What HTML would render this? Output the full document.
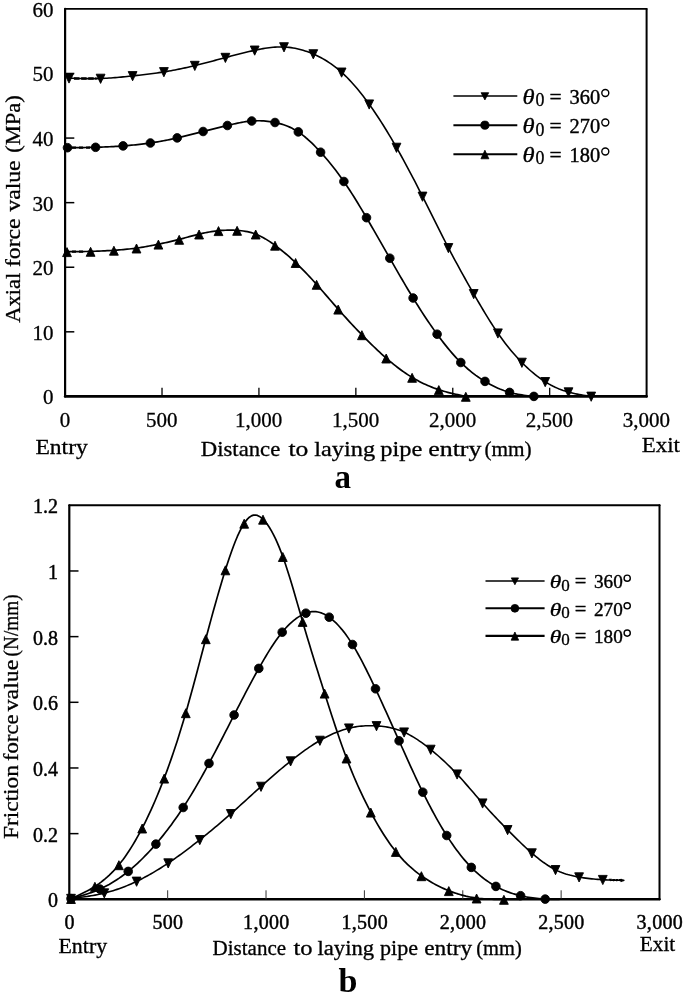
<!DOCTYPE html>
<html><head><meta charset="utf-8"><title>Figure</title>
<style>html,body{margin:0;padding:0;background:#fff;}body{width:685px;height:995px;overflow:hidden;font-family:"Liberation Serif",serif;}</style>
</head><body>
<svg width="685" height="995" viewBox="0 0 685 995" style="display:block;filter:grayscale(1)">
<rect width="685" height="995" fill="#fff"/>
<g font-family="'Liberation Serif', serif" fill="#000">
<g stroke="#000" fill="none" stroke-linecap="round">
<path d="M65.10 8.90 H646.60" stroke-width="1.80"/>
<path d="M646.60 8.90 V396.40" stroke-width="2.00"/>
<path d="M65.10 8.90 V396.40" stroke-width="2.20"/>
<path d="M65.10 396.40 H646.60" stroke-width="2.60"/>
</g><g stroke="#000" fill="none">
<path d="M65.10 73.48 h9.2" stroke-width="1.50"/>
<path d="M162.02 396.40 v-8.6" stroke-width="1.30" stroke="#000"/>
<path d="M65.10 138.07 h9.2" stroke-width="1.50"/>
<path d="M258.93 396.40 v-8.6" stroke-width="1.30" stroke="#000"/>
<path d="M65.10 202.65 h9.2" stroke-width="1.50"/>
<path d="M355.85 396.40 v-8.6" stroke-width="1.30" stroke="#000"/>
<path d="M65.10 267.23 h9.2" stroke-width="1.50"/>
<path d="M452.77 396.40 v-8.6" stroke-width="1.30" stroke="#000"/>
<path d="M65.10 331.82 h9.2" stroke-width="1.50"/>
<path d="M549.68 396.40 v-8.6" stroke-width="1.30" stroke="#000"/>
</g>
<text x="53.5" y="16.90" font-size="21.0" text-anchor="end" stroke="#000" stroke-width="0.3">60</text>
<text x="53.5" y="81.48" font-size="21.0" text-anchor="end" stroke="#000" stroke-width="0.3">50</text>
<text x="53.5" y="146.07" font-size="21.0" text-anchor="end" stroke="#000" stroke-width="0.3">40</text>
<text x="53.5" y="210.65" font-size="21.0" text-anchor="end" stroke="#000" stroke-width="0.3">30</text>
<text x="53.5" y="275.23" font-size="21.0" text-anchor="end" stroke="#000" stroke-width="0.3">20</text>
<text x="53.5" y="339.82" font-size="21.0" text-anchor="end" stroke="#000" stroke-width="0.3">10</text>
<text x="53.5" y="404.40" font-size="21.0" text-anchor="end" stroke="#000" stroke-width="0.3">0</text>
<text x="64.90" y="427.0" font-size="21.0" text-anchor="middle" stroke="#000" stroke-width="0.3">0</text>
<text x="161.82" y="427.0" font-size="21.0" text-anchor="middle" stroke="#000" stroke-width="0.3">500</text>
<text x="258.73" y="427.0" font-size="21.0" text-anchor="middle" stroke="#000" stroke-width="0.3">1,000</text>
<text x="355.65" y="427.0" font-size="21.0" text-anchor="middle" stroke="#000" stroke-width="0.3">1,500</text>
<text x="452.57" y="427.0" font-size="21.0" text-anchor="middle" stroke="#000" stroke-width="0.3">2,000</text>
<text x="549.48" y="427.0" font-size="21.0" text-anchor="middle" stroke="#000" stroke-width="0.3">2,500</text>
<text x="646.40" y="427.0" font-size="21.0" text-anchor="middle" stroke="#000" stroke-width="0.3">3,000</text>
<text x="35.4" y="453.5" font-size="22" textLength="52.4" lengthAdjust="spacingAndGlyphs" stroke="#000" stroke-width="0.3">Entry</text>
<text x="641.8" y="452" font-size="22" textLength="38.2" lengthAdjust="spacingAndGlyphs" stroke="#000" stroke-width="0.3">Exit</text>
<text x="200.80" y="455.50" font-size="21.50" textLength="79.50" lengthAdjust="spacingAndGlyphs" stroke="#000" stroke-width="0.3">Distance</text>
<text x="288.40" y="455.50" font-size="21.50" textLength="19.90" lengthAdjust="spacingAndGlyphs" stroke="#000" stroke-width="0.3">to</text>
<text x="314.20" y="455.50" font-size="21.50" textLength="60.90" lengthAdjust="spacingAndGlyphs" stroke="#000" stroke-width="0.3">laying</text>
<text x="380.30" y="455.50" font-size="21.50" textLength="42.10" lengthAdjust="spacingAndGlyphs" stroke="#000" stroke-width="0.3">pipe</text>
<text x="428.20" y="455.50" font-size="21.50" textLength="53.30" lengthAdjust="spacingAndGlyphs" stroke="#000" stroke-width="0.3">entry</text>
<text x="484.40" y="455.50" font-size="21.00" textLength="47.20" lengthAdjust="spacingAndGlyphs" stroke="#000" stroke-width="0.3">(mm)</text>
<text x="342.8" y="487.8" font-size="33" font-weight="bold" text-anchor="middle">a</text>
<text transform="translate(20.40 322.70) rotate(-90)" font-size="21.50" textLength="50.10" lengthAdjust="spacingAndGlyphs" stroke="#000" stroke-width="0.3">Axial</text>
<text transform="translate(20.40 267.10) rotate(-90)" font-size="21.50" textLength="48.70" lengthAdjust="spacingAndGlyphs" stroke="#000" stroke-width="0.3">force</text>
<text transform="translate(20.40 211.50) rotate(-90)" font-size="21.50" textLength="51.10" lengthAdjust="spacingAndGlyphs" stroke="#000" stroke-width="0.3">value</text>
<text transform="translate(20.40 152.80) rotate(-90)" font-size="21.50" textLength="57.50" lengthAdjust="spacingAndGlyphs" stroke="#000" stroke-width="0.3">(MPa)</text>
<path d="M69.00 78.20 L71.00 78.26 L73.00 78.32 L75.00 78.38 L77.00 78.44 L79.00 78.49 L81.00 78.54 L83.01 78.58 L85.01 78.61 L87.01 78.64 L89.01 78.65 L91.01 78.66 L93.01 78.65 L95.01 78.63 L97.01 78.60 L99.01 78.55 L101.01 78.49 L103.01 78.40 L105.01 78.31 L107.01 78.20 L109.02 78.07 L111.02 77.94 L113.02 77.79 L115.02 77.63 L117.02 77.46 L119.02 77.28 L121.02 77.09 L123.02 76.90 L125.02 76.70 L127.02 76.49 L129.02 76.28 L131.02 76.07 L133.02 75.85 L135.03 75.64 L137.03 75.42 L139.03 75.20 L141.03 74.97 L143.03 74.74 L145.03 74.50 L147.03 74.26 L149.03 74.01 L151.03 73.76 L153.03 73.49 L155.03 73.22 L157.03 72.94 L159.03 72.65 L161.04 72.35 L163.04 72.04 L165.04 71.71 L167.04 71.38 L169.04 71.03 L171.04 70.67 L173.04 70.30 L175.04 69.92 L177.04 69.52 L179.04 69.12 L181.04 68.71 L183.04 68.28 L185.04 67.85 L187.05 67.41 L189.05 66.95 L191.05 66.49 L193.05 66.02 L195.05 65.54 L197.05 65.05 L199.05 64.56 L201.05 64.05 L203.05 63.54 L205.05 63.03 L207.05 62.51 L209.05 61.98 L211.05 61.45 L213.06 60.92 L215.06 60.38 L217.06 59.85 L219.06 59.31 L221.06 58.77 L223.06 58.23 L225.06 57.69 L227.06 57.15 L229.06 56.62 L231.06 56.09 L233.06 55.56 L235.06 55.03 L237.06 54.51 L239.07 54.00 L241.07 53.49 L243.07 53.00 L245.07 52.51 L247.07 52.03 L249.07 51.56 L251.07 51.10 L253.07 50.65 L255.07 50.22 L257.07 49.80 L259.07 49.40 L261.07 49.02 L263.07 48.66 L265.08 48.33 L267.08 48.02 L269.08 47.75 L271.08 47.51 L273.08 47.31 L275.08 47.15 L277.08 47.03 L279.08 46.96 L281.08 46.94 L283.08 46.97 L285.08 47.05 L287.08 47.19 L289.08 47.39 L291.09 47.63 L293.09 47.94 L295.09 48.30 L297.09 48.71 L299.09 49.18 L301.09 49.69 L303.09 50.27 L305.09 50.89 L307.09 51.57 L309.09 52.30 L311.09 53.08 L313.09 53.91 L315.09 54.79 L317.10 55.73 L319.10 56.72 L321.10 57.77 L323.10 58.88 L325.10 60.05 L327.10 61.28 L329.10 62.58 L331.10 63.94 L333.10 65.38 L335.10 66.88 L337.10 68.46 L339.10 70.12 L341.10 71.86 L343.10 73.67 L345.11 75.57 L347.11 77.54 L349.11 79.60 L351.11 81.73 L353.11 83.93 L355.11 86.20 L357.11 88.55 L359.11 90.97 L361.11 93.46 L363.11 96.02 L365.11 98.64 L367.11 101.33 L369.11 104.08 L371.12 106.90 L373.12 109.77 L375.12 112.71 L377.12 115.71 L379.12 118.76 L381.12 121.87 L383.12 125.03 L385.12 128.25 L387.12 131.52 L389.12 134.84 L391.12 138.21 L393.12 141.63 L395.12 145.09 L397.13 148.60 L399.13 152.16 L401.13 155.76 L403.13 159.39 L405.13 163.07 L407.13 166.79 L409.13 170.54 L411.13 174.32 L413.13 178.14 L415.13 181.99 L417.13 185.87 L419.13 189.77 L421.13 193.70 L423.14 197.66 L425.14 201.64 L427.14 205.63 L429.14 209.63 L431.14 213.65 L433.14 217.66 L435.14 221.67 L437.14 225.67 L439.14 229.66 L441.14 233.63 L443.14 237.58 L445.14 241.49 L447.14 245.38 L449.15 249.23 L451.15 253.04 L453.15 256.81 L455.15 260.54 L457.15 264.24 L459.15 267.91 L461.15 271.55 L463.15 275.16 L465.15 278.74 L467.15 282.30 L469.15 285.83 L471.15 289.35 L473.15 292.85 L475.16 296.33 L477.16 299.79 L479.16 303.23 L481.16 306.64 L483.16 310.01 L485.16 313.34 L487.16 316.62 L489.16 319.85 L491.16 323.02 L493.16 326.13 L495.16 329.17 L497.16 332.13 L499.16 335.01 L501.17 337.81 L503.17 340.54 L505.17 343.18 L507.17 345.75 L509.17 348.25 L511.17 350.67 L513.17 353.02 L515.17 355.30 L517.17 357.52 L519.17 359.67 L521.17 361.76 L523.17 363.78 L525.17 365.75 L527.18 367.65 L529.18 369.49 L531.18 371.26 L533.18 372.97 L535.18 374.61 L537.18 376.19 L539.18 377.69 L541.18 379.13 L543.18 380.49 L545.18 381.79 L547.18 383.01 L549.18 384.16 L551.18 385.25 L553.19 386.27 L555.19 387.22 L557.19 388.11 L559.19 388.95 L561.19 389.72 L563.19 390.44 L565.19 391.11 L567.19 391.72 L569.19 392.29 L571.19 392.81 L573.19 393.29 L575.19 393.73 L577.19 394.14 L579.20 394.52 L581.20 394.87 L583.20 395.20 L585.20 395.51 L587.20 395.82 L589.20 396.11 L591.20 396.40" fill="none" stroke="#000" stroke-width="1.60" stroke-linejoin="round" stroke-linecap="round"/>
<g fill="#000" stroke="#000" stroke-width="0.90" stroke-linejoin="round"><path d="M64.60 73.90 L73.40 73.90 L69.00 83.10 Z"/><path d="M96.20 74.20 L105.00 74.20 L100.60 83.40 Z"/><path d="M128.20 71.60 L137.00 71.60 L132.60 80.80 Z"/><path d="M159.50 67.60 L168.30 67.60 L163.90 76.80 Z"/><path d="M190.40 61.30 L199.20 61.30 L194.80 70.50 Z"/><path d="M221.00 53.30 L229.80 53.30 L225.40 62.50 Z"/><path d="M250.30 46.00 L259.10 46.00 L254.70 55.20 Z"/><path d="M279.60 42.70 L288.40 42.70 L284.00 51.90 Z"/><path d="M308.90 49.70 L317.70 49.70 L313.30 58.90 Z"/><path d="M337.20 68.00 L346.00 68.00 L341.60 77.20 Z"/><path d="M364.80 99.90 L373.60 99.90 L369.20 109.10 Z"/><path d="M392.10 143.20 L400.90 143.20 L396.50 152.40 Z"/><path d="M418.10 192.10 L426.90 192.10 L422.50 201.30 Z"/><path d="M444.00 243.50 L452.80 243.50 L448.40 252.70 Z"/><path d="M469.30 289.50 L478.10 289.50 L473.70 298.70 Z"/><path d="M493.50 328.90 L502.30 328.90 L497.90 338.10 Z"/><path d="M517.50 358.20 L526.30 358.20 L521.90 367.40 Z"/><path d="M540.80 377.50 L549.60 377.50 L545.20 386.70 Z"/><path d="M564.10 387.80 L572.90 387.80 L568.50 397.00 Z"/><path d="M586.80 392.10 L595.60 392.10 L591.20 401.30 Z"/></g>

<path d="M74 78.5 H96.5" stroke="#000" stroke-width="2.6" stroke-dasharray="5.5 1.6" fill="none"/>
<path d="M72 147.6 H91" stroke="#000" stroke-width="2.2" stroke-dasharray="4 3" fill="none"/>
<path d="M72 251.6 H86" stroke="#000" stroke-width="2.2" stroke-dasharray="4 3" fill="none"/>
<path d="M67.50 147.70 L69.50 147.69 L71.50 147.67 L73.51 147.66 L75.51 147.64 L77.51 147.62 L79.51 147.60 L81.51 147.58 L83.51 147.55 L85.52 147.52 L87.52 147.49 L89.52 147.45 L91.52 147.40 L93.52 147.36 L95.52 147.30 L97.53 147.24 L99.53 147.18 L101.53 147.10 L103.53 147.02 L105.53 146.94 L107.53 146.84 L109.54 146.75 L111.54 146.64 L113.54 146.53 L115.54 146.41 L117.54 146.28 L119.54 146.15 L121.55 146.01 L123.55 145.87 L125.55 145.71 L127.55 145.55 L129.55 145.38 L131.55 145.21 L133.56 145.02 L135.56 144.82 L137.56 144.61 L139.56 144.40 L141.56 144.17 L143.57 143.92 L145.57 143.67 L147.57 143.40 L149.57 143.12 L151.57 142.83 L153.57 142.52 L155.58 142.19 L157.58 141.85 L159.58 141.50 L161.58 141.14 L163.58 140.76 L165.58 140.38 L167.59 139.98 L169.59 139.56 L171.59 139.14 L173.59 138.71 L175.59 138.26 L177.59 137.81 L179.60 137.35 L181.60 136.87 L183.60 136.39 L185.60 135.91 L187.60 135.41 L189.60 134.92 L191.61 134.42 L193.61 133.91 L195.61 133.40 L197.61 132.89 L199.61 132.39 L201.62 131.88 L203.62 131.37 L205.62 130.86 L207.62 130.36 L209.62 129.86 L211.62 129.36 L213.63 128.86 L215.63 128.37 L217.63 127.88 L219.63 127.39 L221.63 126.90 L223.63 126.41 L225.64 125.93 L227.64 125.44 L229.64 124.96 L231.64 124.49 L233.64 124.03 L235.64 123.58 L237.65 123.15 L239.65 122.74 L241.65 122.36 L243.65 122.01 L245.65 121.70 L247.65 121.42 L249.66 121.19 L251.66 121.00 L253.66 120.87 L255.66 120.78 L257.66 120.75 L259.66 120.76 L261.67 120.83 L263.67 120.94 L265.67 121.10 L267.67 121.32 L269.67 121.58 L271.68 121.88 L273.68 122.24 L275.68 122.64 L277.68 123.09 L279.68 123.60 L281.68 124.17 L283.69 124.80 L285.69 125.50 L287.69 126.28 L289.69 127.14 L291.69 128.09 L293.69 129.13 L295.70 130.26 L297.70 131.51 L299.70 132.85 L301.70 134.31 L303.70 135.87 L305.70 137.52 L307.71 139.26 L309.71 141.08 L311.71 142.98 L313.71 144.95 L315.71 146.99 L317.71 149.08 L319.72 151.23 L321.72 153.43 L323.72 155.68 L325.72 157.98 L327.72 160.32 L329.72 162.73 L331.73 165.18 L333.73 167.70 L335.73 170.28 L337.73 172.92 L339.73 175.63 L341.74 178.41 L343.74 181.26 L345.74 184.19 L347.74 187.18 L349.74 190.24 L351.74 193.36 L353.75 196.53 L355.75 199.75 L357.75 203.02 L359.75 206.32 L361.75 209.66 L363.75 213.04 L365.76 216.43 L367.76 219.85 L369.76 223.28 L371.76 226.73 L373.76 230.19 L375.76 233.67 L377.77 237.15 L379.77 240.64 L381.77 244.14 L383.77 247.64 L385.77 251.15 L387.77 254.65 L389.78 258.16 L391.78 261.66 L393.78 265.16 L395.78 268.64 L397.78 272.12 L399.78 275.58 L401.79 279.02 L403.79 282.44 L405.79 285.84 L407.79 289.21 L409.79 292.55 L411.80 295.86 L413.80 299.14 L415.80 302.37 L417.80 305.57 L419.80 308.73 L421.80 311.85 L423.81 314.92 L425.81 317.95 L427.81 320.94 L429.81 323.88 L431.81 326.78 L433.81 329.63 L435.82 332.43 L437.82 335.18 L439.82 337.88 L441.82 340.53 L443.82 343.12 L445.82 345.65 L447.83 348.12 L449.83 350.53 L451.83 352.87 L453.83 355.15 L455.83 357.35 L457.83 359.48 L459.84 361.54 L461.84 363.52 L463.84 365.42 L465.84 367.24 L467.84 368.99 L469.85 370.67 L471.85 372.29 L473.85 373.84 L475.85 375.33 L477.85 376.75 L479.85 378.12 L481.86 379.44 L483.86 380.70 L485.86 381.91 L487.86 383.08 L489.86 384.19 L491.86 385.26 L493.87 386.28 L495.87 387.24 L497.87 388.15 L499.87 389.01 L501.87 389.81 L503.87 390.56 L505.88 391.26 L507.88 391.90 L509.88 392.48 L511.88 393.00 L513.88 393.48 L515.88 393.90 L517.89 394.29 L519.89 394.64 L521.89 394.95 L523.89 395.23 L525.89 395.50 L527.89 395.74 L529.90 395.97 L531.90 396.19 L533.90 396.40" fill="none" stroke="#000" stroke-width="1.70" stroke-linejoin="round" stroke-linecap="round"/>
<g fill="#000" stroke="#000" stroke-width="0.90" stroke-linejoin="round"><circle cx="67.50" cy="147.70" r="4.30"/><circle cx="95.60" cy="147.30" r="4.30"/><circle cx="123.10" cy="145.90" r="4.30"/><circle cx="150.40" cy="143.00" r="4.30"/><circle cx="177.20" cy="137.90" r="4.30"/><circle cx="203.10" cy="131.50" r="4.30"/><circle cx="227.40" cy="125.50" r="4.30"/><circle cx="251.70" cy="121.00" r="4.30"/><circle cx="275.00" cy="122.50" r="4.30"/><circle cx="298.30" cy="131.90" r="4.30"/><circle cx="320.60" cy="152.20" r="4.30"/><circle cx="343.90" cy="181.50" r="4.30"/><circle cx="366.50" cy="217.70" r="4.30"/><circle cx="389.80" cy="258.20" r="4.30"/><circle cx="413.10" cy="298.00" r="4.30"/><circle cx="437.10" cy="334.20" r="4.30"/><circle cx="460.80" cy="362.50" r="4.30"/><circle cx="485.00" cy="381.40" r="4.30"/><circle cx="509.60" cy="392.40" r="4.30"/><circle cx="533.90" cy="396.40" r="4.30"/></g>

<path d="M67.00 251.70 L69.00 251.69 L71.01 251.68 L73.01 251.66 L75.02 251.65 L77.02 251.63 L79.02 251.61 L81.03 251.59 L83.03 251.56 L85.04 251.52 L87.04 251.48 L89.04 251.44 L91.05 251.39 L93.05 251.33 L95.06 251.26 L97.06 251.19 L99.06 251.11 L101.07 251.02 L103.07 250.93 L105.08 250.83 L107.08 250.72 L109.08 250.60 L111.09 250.48 L113.09 250.35 L115.10 250.22 L117.10 250.08 L119.10 249.92 L121.11 249.76 L123.11 249.59 L125.12 249.41 L127.12 249.21 L129.12 249.00 L131.13 248.78 L133.13 248.54 L135.14 248.28 L137.14 248.01 L139.14 247.72 L141.15 247.41 L143.15 247.08 L145.16 246.74 L147.16 246.39 L149.16 246.02 L151.17 245.64 L153.17 245.26 L155.18 244.86 L157.18 244.45 L159.18 244.04 L161.19 243.62 L163.19 243.19 L165.20 242.75 L167.20 242.30 L169.21 241.85 L171.21 241.38 L173.21 240.90 L175.22 240.41 L177.22 239.91 L179.23 239.39 L181.23 238.86 L183.23 238.32 L185.24 237.77 L187.24 237.22 L189.25 236.67 L191.25 236.13 L193.25 235.59 L195.26 235.06 L197.26 234.55 L199.27 234.06 L201.27 233.59 L203.27 233.15 L205.28 232.73 L207.28 232.33 L209.29 231.97 L211.29 231.64 L213.29 231.33 L215.30 231.06 L217.30 230.83 L219.31 230.62 L221.31 230.46 L223.31 230.33 L225.32 230.23 L227.32 230.17 L229.33 230.15 L231.33 230.16 L233.33 230.21 L235.34 230.30 L237.34 230.42 L239.35 230.57 L241.35 230.77 L243.35 231.02 L245.36 231.33 L247.36 231.70 L249.37 232.14 L251.37 232.67 L253.37 233.28 L255.38 233.98 L257.38 234.78 L259.39 235.68 L261.39 236.66 L263.39 237.74 L265.40 238.89 L267.40 240.11 L269.41 241.40 L271.41 242.75 L273.41 244.15 L275.42 245.61 L277.42 247.10 L279.43 248.64 L281.43 250.22 L283.43 251.85 L285.44 253.51 L287.44 255.22 L289.45 256.97 L291.45 258.76 L293.45 260.59 L295.46 262.47 L297.46 264.38 L299.47 266.33 L301.47 268.32 L303.47 270.34 L305.48 272.40 L307.48 274.49 L309.49 276.62 L311.49 278.77 L313.49 280.96 L315.50 283.17 L317.50 285.41 L319.51 287.68 L321.51 289.96 L323.51 292.26 L325.52 294.58 L327.52 296.90 L329.53 299.22 L331.53 301.54 L333.53 303.86 L335.54 306.16 L337.54 308.45 L339.55 310.73 L341.55 312.98 L343.55 315.21 L345.56 317.43 L347.56 319.62 L349.57 321.80 L351.57 323.96 L353.57 326.10 L355.58 328.22 L357.58 330.32 L359.59 332.41 L361.59 334.48 L363.59 336.54 L365.60 338.57 L367.60 340.59 L369.61 342.58 L371.61 344.56 L373.62 346.51 L375.62 348.43 L377.62 350.32 L379.63 352.19 L381.63 354.03 L383.64 355.84 L385.64 357.61 L387.64 359.35 L389.65 361.05 L391.65 362.72 L393.66 364.35 L395.66 365.94 L397.66 367.49 L399.67 369.00 L401.67 370.47 L403.68 371.89 L405.68 373.27 L407.68 374.61 L409.69 375.90 L411.69 377.15 L413.70 378.35 L415.70 379.50 L417.70 380.61 L419.71 381.67 L421.71 382.69 L423.72 383.67 L425.72 384.60 L427.72 385.49 L429.73 386.34 L431.73 387.15 L433.74 387.92 L435.74 388.65 L437.74 389.35 L439.75 390.01 L441.75 390.63 L443.76 391.23 L445.76 391.79 L447.76 392.33 L449.77 392.84 L451.77 393.33 L453.78 393.80 L455.78 394.26 L457.78 394.70 L459.79 395.14 L461.79 395.56 L463.80 395.98 L465.80 396.40" fill="none" stroke="#000" stroke-width="1.70" stroke-linejoin="round" stroke-linecap="round"/>
<g fill="#000" stroke="#000" stroke-width="0.90" stroke-linejoin="round"><path d="M62.60 256.60 L71.40 256.60 L67.00 247.60 Z"/><path d="M86.20 256.30 L95.00 256.30 L90.60 247.30 Z"/><path d="M109.50 255.20 L118.30 255.20 L113.90 246.20 Z"/><path d="M132.10 253.00 L140.90 253.00 L136.50 244.00 Z"/><path d="M154.00 249.10 L162.80 249.10 L158.40 240.10 Z"/><path d="M174.80 244.30 L183.60 244.30 L179.20 235.30 Z"/><path d="M194.70 239.00 L203.50 239.00 L199.10 230.00 Z"/><path d="M214.10 235.60 L222.90 235.60 L218.50 226.60 Z"/><path d="M232.70 235.30 L241.50 235.30 L237.10 226.30 Z"/><path d="M251.30 239.00 L260.10 239.00 L255.70 230.00 Z"/><path d="M270.60 250.20 L279.40 250.20 L275.00 241.20 Z"/><path d="M291.20 267.50 L300.00 267.50 L295.60 258.50 Z"/><path d="M312.20 289.30 L321.00 289.30 L316.60 280.30 Z"/><path d="M333.80 314.10 L342.60 314.10 L338.20 305.10 Z"/><path d="M357.50 339.70 L366.30 339.70 L361.90 330.70 Z"/><path d="M381.80 363.00 L390.60 363.00 L386.20 354.00 Z"/><path d="M407.70 382.30 L416.50 382.30 L412.10 373.30 Z"/><path d="M434.40 394.60 L443.20 394.60 L438.80 385.60 Z"/><path d="M461.40 401.30 L470.20 401.30 L465.80 392.30 Z"/></g>

<path d="M453.40 96.00 H517.30" stroke="#000" stroke-width="1.30"/>
<g stroke="#000" stroke-width="0.8" stroke-linejoin="round">
<path d="M481.10 92.69 L488.70 92.69 L484.90 99.91 Z"/>
</g>
<text transform="translate(522.60 103.60) scale(1.2 1)" font-size="20.50" font-style="italic" stroke="#000" stroke-width="0.3">θ</text>
<text x="535.60" y="106.00" font-size="17.84" stroke="#000" stroke-width="0.3">0</text>
<text x="549.60" y="103.60" font-size="21.53" stroke="#000" stroke-width="0.4">=</text>
<text x="569.60" y="103.60" font-size="20.50" textLength="30.60" lengthAdjust="spacingAndGlyphs" stroke="#000" stroke-width="0.4">360</text>
<circle cx="605.30" cy="93.05" r="3.49" fill="none" stroke="#000" stroke-width="1.4"/>
<path d="M453.40 125.20 H517.30" stroke="#000" stroke-width="2.10"/>
<g stroke="#000" stroke-width="0.8" stroke-linejoin="round">
<circle cx="484.90" cy="125.20" r="4.10"/>
</g>
<text transform="translate(522.60 133.10) scale(1.2 1)" font-size="20.50" font-style="italic" stroke="#000" stroke-width="0.3">θ</text>
<text x="535.60" y="135.50" font-size="17.84" stroke="#000" stroke-width="0.3">0</text>
<text x="549.60" y="133.10" font-size="21.53" stroke="#000" stroke-width="0.4">=</text>
<text x="569.60" y="133.10" font-size="20.50" textLength="30.60" lengthAdjust="spacingAndGlyphs" stroke="#000" stroke-width="0.4">270</text>
<circle cx="605.30" cy="122.55" r="3.49" fill="none" stroke="#000" stroke-width="1.4"/>
<path d="M453.40 154.30 H517.30" stroke="#000" stroke-width="2.10"/>
<g stroke="#000" stroke-width="0.8" stroke-linejoin="round">
<path d="M480.95 158.79 L488.85 158.79 L484.90 150.21 Z"/>
</g>
<text transform="translate(522.60 162.00) scale(1.2 1)" font-size="20.50" font-style="italic" stroke="#000" stroke-width="0.3">θ</text>
<text x="535.60" y="164.40" font-size="17.84" stroke="#000" stroke-width="0.3">0</text>
<text x="549.60" y="162.00" font-size="21.53" stroke="#000" stroke-width="0.4">=</text>
<text x="569.60" y="162.00" font-size="20.50" textLength="30.60" lengthAdjust="spacingAndGlyphs" stroke="#000" stroke-width="0.4">180</text>
<circle cx="605.30" cy="151.45" r="3.49" fill="none" stroke="#000" stroke-width="1.4"/>
<g stroke="#000" fill="none" stroke-linecap="round">
<path d="M69.30 505.30 H659.50" stroke-width="2.00"/>
<path d="M659.50 505.30 V899.30" stroke-width="2.00"/>
<path d="M69.30 505.30 V899.30" stroke-width="2.20"/>
<path d="M69.30 899.30 H659.50" stroke-width="2.40"/>
</g><g stroke="#000" fill="none">
<path d="M69.30 570.97 h9.2" stroke-width="1.50"/>
<path d="M167.67 899.30 v-9.0" stroke-width="1.00" stroke="#333"/>
<path d="M69.30 636.63 h9.2" stroke-width="1.50"/>
<path d="M266.03 899.30 v-9.0" stroke-width="1.00" stroke="#333"/>
<path d="M69.30 702.30 h9.2" stroke-width="1.50"/>
<path d="M364.40 899.30 v-9.0" stroke-width="1.00" stroke="#333"/>
<path d="M69.30 767.97 h9.2" stroke-width="1.50"/>
<path d="M462.77 899.30 v-9.0" stroke-width="1.00" stroke="#333"/>
<path d="M69.30 833.63 h9.2" stroke-width="1.50"/>
<path d="M561.13 899.30 v-9.0" stroke-width="1.00" stroke="#333"/>
</g>
<text x="57.9" y="513.40" font-size="20.0" text-anchor="end" stroke="#000" stroke-width="0.45">1.2</text>
<text x="57.9" y="579.07" font-size="20.0" text-anchor="end" stroke="#000" stroke-width="0.45">1</text>
<text x="57.9" y="644.73" font-size="20.0" text-anchor="end" stroke="#000" stroke-width="0.45">0.8</text>
<text x="57.9" y="710.40" font-size="20.0" text-anchor="end" stroke="#000" stroke-width="0.45">0.6</text>
<text x="57.9" y="776.07" font-size="20.0" text-anchor="end" stroke="#000" stroke-width="0.45">0.4</text>
<text x="57.9" y="841.73" font-size="20.0" text-anchor="end" stroke="#000" stroke-width="0.45">0.2</text>
<text x="57.9" y="907.40" font-size="20.0" text-anchor="end" stroke="#000" stroke-width="0.45">0</text>
<text x="69.60" y="929.4" font-size="20.0" text-anchor="middle" letter-spacing="0.3" stroke="#000" stroke-width="0.45">0</text>
<text x="167.97" y="929.4" font-size="20.0" text-anchor="middle" letter-spacing="0.3" stroke="#000" stroke-width="0.45">500</text>
<text x="266.33" y="929.4" font-size="20.0" text-anchor="middle" letter-spacing="0.3" stroke="#000" stroke-width="0.45">1,000</text>
<text x="364.70" y="929.4" font-size="20.0" text-anchor="middle" letter-spacing="0.3" stroke="#000" stroke-width="0.45">1,500</text>
<text x="463.07" y="929.4" font-size="20.0" text-anchor="middle" letter-spacing="0.3" stroke="#000" stroke-width="0.45">2,000</text>
<text x="561.43" y="929.4" font-size="20.0" text-anchor="middle" letter-spacing="0.3" stroke="#000" stroke-width="0.45">2,500</text>
<text x="659.80" y="929.4" font-size="20.0" text-anchor="middle" letter-spacing="0.3" stroke="#000" stroke-width="0.45">3,000</text>
<text x="58.5" y="953.4" font-size="20.5" textLength="48.6" lengthAdjust="spacingAndGlyphs" stroke="#000" stroke-width="0.3">Entry</text>
<text x="639.8" y="951.3" font-size="20.5" textLength="35.4" lengthAdjust="spacingAndGlyphs" stroke="#000" stroke-width="0.3">Exit</text>
<text x="212.50" y="955.30" font-size="20.50" textLength="73.60" lengthAdjust="spacingAndGlyphs" stroke="#000" stroke-width="0.3">Distance</text>
<text x="293.50" y="955.30" font-size="20.50" textLength="19.10" lengthAdjust="spacingAndGlyphs" stroke="#000" stroke-width="0.3">to</text>
<text x="317.50" y="955.30" font-size="20.50" textLength="56.60" lengthAdjust="spacingAndGlyphs" stroke="#000" stroke-width="0.3">laying</text>
<text x="380.00" y="955.30" font-size="20.50" textLength="38.00" lengthAdjust="spacingAndGlyphs" stroke="#000" stroke-width="0.3">pipe</text>
<text x="424.20" y="955.30" font-size="20.50" textLength="47.90" lengthAdjust="spacingAndGlyphs" stroke="#000" stroke-width="0.3">entry</text>
<text x="476.30" y="955.30" font-size="20.00" textLength="45.50" lengthAdjust="spacingAndGlyphs" stroke="#000" stroke-width="0.3">(mm)</text>
<text x="347.9" y="991.7" font-size="34" font-weight="bold" text-anchor="middle">b</text>
<text transform="translate(18.00 839.10) rotate(-90)" font-size="21.00" textLength="74.00" lengthAdjust="spacingAndGlyphs" stroke="#000" stroke-width="0.3">Friction</text>
<text transform="translate(18.00 761.00) rotate(-90)" font-size="21.00" textLength="46.60" lengthAdjust="spacingAndGlyphs" stroke="#000" stroke-width="0.3">force</text>
<text transform="translate(18.00 711.30) rotate(-90)" font-size="21.00" textLength="51.50" lengthAdjust="spacingAndGlyphs" stroke="#000" stroke-width="0.3">value</text>
<text transform="translate(18.00 656.40) rotate(-90)" font-size="21.00" textLength="62.00" lengthAdjust="spacingAndGlyphs" stroke="#000" stroke-width="0.3">(N/mm)</text>
<path d="M71.00 898.60 L73.00 898.35 L75.01 898.10 L77.01 897.84 L79.01 897.58 L81.01 897.31 L83.02 897.04 L85.02 896.75 L87.02 896.45 L89.03 896.14 L91.03 895.81 L93.03 895.46 L95.03 895.09 L97.04 894.71 L99.04 894.30 L101.04 893.86 L103.05 893.40 L105.05 892.91 L107.05 892.40 L109.06 891.85 L111.06 891.27 L113.06 890.67 L115.06 890.03 L117.07 889.37 L119.07 888.68 L121.07 887.96 L123.08 887.21 L125.08 886.43 L127.08 885.63 L129.08 884.79 L131.09 883.93 L133.09 883.03 L135.09 882.11 L137.10 881.16 L139.10 880.18 L141.10 879.18 L143.10 878.14 L145.11 877.08 L147.11 876.00 L149.11 874.89 L151.12 873.75 L153.12 872.59 L155.12 871.40 L157.12 870.19 L159.13 868.96 L161.13 867.70 L163.13 866.43 L165.14 865.13 L167.14 863.81 L169.14 862.47 L171.14 861.11 L173.15 859.73 L175.15 858.33 L177.15 856.91 L179.16 855.48 L181.16 854.03 L183.16 852.56 L185.17 851.08 L187.17 849.58 L189.17 848.06 L191.17 846.54 L193.18 844.99 L195.18 843.44 L197.18 841.87 L199.19 840.29 L201.19 838.69 L203.19 837.09 L205.19 835.48 L207.20 833.85 L209.20 832.21 L211.20 830.56 L213.21 828.90 L215.21 827.22 L217.21 825.54 L219.21 823.84 L221.22 822.13 L223.22 820.41 L225.22 818.68 L227.23 816.94 L229.23 815.18 L231.23 813.42 L233.23 811.64 L235.24 809.85 L237.24 808.06 L239.24 806.25 L241.25 804.44 L243.25 802.62 L245.25 800.80 L247.26 798.98 L249.26 797.16 L251.26 795.33 L253.26 793.51 L255.27 791.69 L257.27 789.87 L259.27 788.06 L261.28 786.25 L263.28 784.45 L265.28 782.66 L267.28 780.88 L269.29 779.11 L271.29 777.35 L273.29 775.60 L275.30 773.86 L277.30 772.14 L279.30 770.43 L281.30 768.74 L283.31 767.06 L285.31 765.40 L287.31 763.76 L289.32 762.13 L291.32 760.53 L293.32 758.94 L295.32 757.38 L297.33 755.84 L299.33 754.33 L301.33 752.84 L303.34 751.38 L305.34 749.94 L307.34 748.54 L309.34 747.17 L311.35 745.83 L313.35 744.52 L315.35 743.25 L317.36 742.01 L319.36 740.82 L321.36 739.66 L323.37 738.54 L325.37 737.46 L327.37 736.42 L329.37 735.43 L331.38 734.48 L333.38 733.58 L335.38 732.72 L337.39 731.90 L339.39 731.14 L341.39 730.43 L343.39 729.76 L345.40 729.15 L347.40 728.59 L349.40 728.08 L351.41 727.62 L353.41 727.22 L355.41 726.87 L357.41 726.56 L359.42 726.31 L361.42 726.10 L363.42 725.94 L365.43 725.82 L367.43 725.74 L369.43 725.71 L371.43 725.71 L373.44 725.76 L375.44 725.84 L377.44 725.96 L379.45 726.12 L381.45 726.31 L383.45 726.55 L385.46 726.83 L387.46 727.16 L389.46 727.55 L391.46 727.99 L393.47 728.48 L395.47 729.04 L397.47 729.66 L399.48 730.35 L401.48 731.10 L403.48 731.93 L405.48 732.83 L407.49 733.81 L409.49 734.86 L411.49 735.97 L413.50 737.15 L415.50 738.40 L417.50 739.70 L419.50 741.05 L421.51 742.46 L423.51 743.92 L425.51 745.42 L427.52 746.96 L429.52 748.55 L431.52 750.17 L433.52 751.83 L435.53 753.52 L437.53 755.25 L439.53 757.01 L441.54 758.81 L443.54 760.66 L445.54 762.54 L447.54 764.46 L449.55 766.42 L451.55 768.42 L453.55 770.47 L455.56 772.56 L457.56 774.69 L459.56 776.87 L461.57 779.08 L463.57 781.33 L465.57 783.60 L467.57 785.89 L469.58 788.20 L471.58 790.52 L473.58 792.84 L475.59 795.16 L477.59 797.48 L479.59 799.78 L481.59 802.06 L483.60 804.32 L485.60 806.56 L487.60 808.77 L489.61 810.95 L491.61 813.12 L493.61 815.26 L495.61 817.39 L497.62 819.50 L499.62 821.59 L501.62 823.67 L503.63 825.74 L505.63 827.79 L507.63 829.83 L509.63 831.87 L511.64 833.89 L513.64 835.89 L515.64 837.88 L517.65 839.85 L519.65 841.80 L521.65 843.73 L523.66 845.63 L525.66 847.49 L527.66 849.33 L529.66 851.13 L531.67 852.90 L533.67 854.62 L535.67 856.30 L537.68 857.94 L539.68 859.52 L541.68 861.05 L543.68 862.52 L545.69 863.93 L547.69 865.27 L549.69 866.54 L551.70 867.74 L553.70 868.86 L555.70 869.90 L557.70 870.86 L559.71 871.73 L561.71 872.53 L563.71 873.26 L565.72 873.93 L567.72 874.54 L569.72 875.09 L571.72 875.59 L573.73 876.05 L575.73 876.47 L577.73 876.85 L579.74 877.21 L581.74 877.54 L583.74 877.84 L585.74 878.12 L587.75 878.38 L589.75 878.62 L591.75 878.83 L593.76 879.03 L595.76 879.21 L597.76 879.37 L599.77 879.51 L601.77 879.64 L603.77 879.75 L605.77 879.86 L607.78 879.95 L609.78 880.03 L611.78 880.10 L613.79 880.16 L615.79 880.21 L617.79 880.27 L619.79 880.31 L621.80 880.36 L623.80 880.40" fill="none" stroke="#000" stroke-width="1.60" stroke-linejoin="round" stroke-linecap="round"/>
<g fill="#000" stroke="#000" stroke-width="0.90" stroke-linejoin="round"><path d="M66.60 894.30 L75.40 894.30 L71.00 903.50 Z"/><path d="M99.90 888.80 L108.70 888.80 L104.30 898.00 Z"/><path d="M132.20 877.10 L141.00 877.10 L136.60 886.30 Z"/><path d="M163.80 858.80 L172.60 858.80 L168.20 868.00 Z"/><path d="M195.40 835.50 L204.20 835.50 L199.80 844.70 Z"/><path d="M226.40 809.50 L235.20 809.50 L230.80 818.70 Z"/><path d="M256.60 782.20 L265.40 782.20 L261.00 791.40 Z"/><path d="M286.20 756.80 L295.00 756.80 L290.60 766.00 Z"/><path d="M315.50 736.20 L324.30 736.20 L319.90 745.40 Z"/><path d="M344.50 723.90 L353.30 723.90 L348.90 733.10 Z"/><path d="M372.10 721.60 L380.90 721.60 L376.50 730.80 Z"/><path d="M399.70 727.90 L408.50 727.90 L404.10 737.10 Z"/><path d="M426.30 745.20 L435.10 745.20 L430.70 754.40 Z"/><path d="M452.70 769.90 L461.50 769.90 L457.10 779.10 Z"/><path d="M478.20 798.90 L487.00 798.90 L482.60 808.10 Z"/><path d="M503.20 825.50 L512.00 825.50 L507.60 834.70 Z"/><path d="M527.50 848.80 L536.30 848.80 L531.90 858.00 Z"/><path d="M551.10 865.50 L559.90 865.50 L555.50 874.70 Z"/><path d="M574.70 872.80 L583.50 872.80 L579.10 882.00 Z"/><path d="M598.40 875.40 L607.20 875.40 L602.80 884.60 Z"/></g>

<g fill="#000"><path d="M608.7 878.7 l3.2 0 l-1.6 2.8 Z"/><path d="M612.2 878.9 l3.2 0 l-1.6 2.8 Z"/><path d="M615.3 879.0 l3.2 0 l-1.6 2.8 Z"/><path d="M618.6 879.1 l3.2 0 l-1.6 2.8 Z"/><path d="M620.8 878.6 L624.3 880.5 L620.8 882.3 Z"/></g>
<path d="M71.00 898.60 L73.01 898.06 L75.01 897.51 L77.02 896.96 L79.03 896.40 L81.04 895.82 L83.04 895.23 L85.05 894.62 L87.06 893.98 L89.07 893.31 L91.07 892.62 L93.08 891.89 L95.09 891.12 L97.10 890.31 L99.10 889.45 L101.11 888.55 L103.12 887.60 L105.12 886.59 L107.13 885.54 L109.14 884.44 L111.15 883.28 L113.15 882.08 L115.16 880.82 L117.17 879.52 L119.18 878.16 L121.18 876.74 L123.19 875.28 L125.20 873.77 L127.20 872.20 L129.21 870.58 L131.22 868.90 L133.23 867.17 L135.23 865.40 L137.24 863.56 L139.25 861.68 L141.26 859.75 L143.26 857.76 L145.27 855.72 L147.28 853.64 L149.29 851.50 L151.29 849.31 L153.30 847.07 L155.31 844.78 L157.31 842.45 L159.32 840.06 L161.33 837.62 L163.34 835.13 L165.34 832.59 L167.35 829.99 L169.36 827.34 L171.37 824.64 L173.37 821.87 L175.38 819.05 L177.39 816.17 L179.40 813.24 L181.40 810.24 L183.41 807.18 L185.42 804.06 L187.42 800.88 L189.43 797.64 L191.44 794.34 L193.45 790.99 L195.45 787.59 L197.46 784.14 L199.47 780.64 L201.48 777.09 L203.48 773.49 L205.49 769.86 L207.50 766.18 L209.50 762.46 L211.51 758.71 L213.52 754.92 L215.53 751.10 L217.53 747.25 L219.54 743.39 L221.55 739.50 L223.56 735.60 L225.56 731.69 L227.57 727.77 L229.58 723.84 L231.59 719.91 L233.59 715.99 L235.60 712.07 L237.61 708.17 L239.61 704.28 L241.62 700.40 L243.63 696.54 L245.64 692.71 L247.64 688.91 L249.65 685.13 L251.66 681.39 L253.67 677.68 L255.67 674.02 L257.68 670.40 L259.69 666.83 L261.70 663.30 L263.70 659.84 L265.71 656.45 L267.72 653.13 L269.72 649.90 L271.73 646.76 L273.74 643.72 L275.75 640.79 L277.75 637.98 L279.76 635.29 L281.77 632.73 L283.78 630.31 L285.78 628.04 L287.79 625.91 L289.80 623.92 L291.80 622.07 L293.81 620.37 L295.82 618.81 L297.83 617.40 L299.83 616.14 L301.84 615.02 L303.85 614.04 L305.86 613.22 L307.86 612.54 L309.87 612.03 L311.88 611.70 L313.89 611.58 L315.89 611.67 L317.90 611.97 L319.91 612.46 L321.91 613.16 L323.92 614.04 L325.93 615.10 L327.94 616.33 L329.94 617.74 L331.95 619.31 L333.96 621.05 L335.97 622.94 L337.97 625.00 L339.98 627.22 L341.99 629.59 L344.00 632.11 L346.00 634.79 L348.01 637.63 L350.02 640.61 L352.02 643.74 L354.03 647.01 L356.04 650.43 L358.05 653.97 L360.05 657.64 L362.06 661.41 L364.07 665.29 L366.08 669.25 L368.08 673.30 L370.09 677.42 L372.10 681.60 L374.10 685.83 L376.11 690.11 L378.12 694.42 L380.13 698.76 L382.13 703.13 L384.14 707.53 L386.15 711.95 L388.16 716.39 L390.16 720.85 L392.17 725.32 L394.18 729.79 L396.19 734.28 L398.19 738.77 L400.20 743.26 L402.21 747.75 L404.21 752.22 L406.22 756.69 L408.23 761.13 L410.24 765.54 L412.24 769.92 L414.25 774.26 L416.26 778.56 L418.27 782.81 L420.27 787.01 L422.28 791.14 L424.29 795.21 L426.30 799.21 L428.30 803.13 L430.31 806.98 L432.32 810.76 L434.32 814.47 L436.33 818.09 L438.34 821.63 L440.35 825.10 L442.35 828.48 L444.36 831.77 L446.37 834.98 L448.38 838.10 L450.38 841.13 L452.39 844.07 L454.40 846.92 L456.40 849.69 L458.41 852.36 L460.42 854.95 L462.43 857.44 L464.43 859.85 L466.44 862.17 L468.45 864.39 L470.46 866.53 L472.46 868.57 L474.47 870.53 L476.48 872.40 L478.49 874.19 L480.49 875.89 L482.50 877.51 L484.51 879.05 L486.51 880.52 L488.52 881.91 L490.53 883.22 L492.54 884.47 L494.54 885.64 L496.55 886.75 L498.56 887.80 L500.57 888.78 L502.57 889.70 L504.58 890.57 L506.59 891.38 L508.60 892.13 L510.60 892.84 L512.61 893.50 L514.62 894.11 L516.62 894.68 L518.63 895.22 L520.64 895.71 L522.65 896.17 L524.65 896.59 L526.66 896.98 L528.67 897.34 L530.68 897.66 L532.68 897.95 L534.69 898.21 L536.70 898.44 L538.70 898.64 L540.71 898.82 L542.72 898.96 L544.73 899.08 L546.73 899.17 L548.74 899.23 L550.75 899.28 L552.76 899.30 L554.76 899.30 L556.77 899.30 L558.78 899.29 L560.79 899.26 L562.79 899.23 L564.80 899.20" fill="none" stroke="#000" stroke-width="1.70" stroke-linejoin="round" stroke-linecap="round"/>
<g fill="#000" stroke="#000" stroke-width="0.90" stroke-linejoin="round"><circle cx="71.00" cy="898.60" r="4.30"/><circle cx="99.90" cy="889.10" r="4.30"/><circle cx="128.20" cy="871.40" r="4.30"/><circle cx="155.90" cy="844.10" r="4.30"/><circle cx="183.20" cy="807.50" r="4.30"/><circle cx="209.00" cy="763.40" r="4.30"/><circle cx="234.10" cy="715.00" r="4.30"/><circle cx="258.80" cy="668.40" r="4.30"/><circle cx="282.20" cy="632.20" r="4.30"/><circle cx="305.90" cy="613.20" r="4.30"/><circle cx="329.20" cy="617.20" r="4.30"/><circle cx="352.50" cy="644.50" r="4.30"/><circle cx="375.50" cy="688.80" r="4.30"/><circle cx="399.10" cy="740.80" r="4.30"/><circle cx="422.80" cy="792.20" r="4.30"/><circle cx="446.70" cy="835.50" r="4.30"/><circle cx="471.30" cy="867.40" r="4.30"/><circle cx="495.90" cy="886.40" r="4.30"/><circle cx="520.60" cy="895.70" r="4.30"/><circle cx="545.20" cy="899.10" r="4.30"/></g>

<path d="M71.00 898.60 L73.00 897.71 L75.01 896.81 L77.01 895.90 L79.02 894.98 L81.02 894.03 L83.03 893.05 L85.03 892.04 L87.04 891.00 L89.04 889.90 L91.04 888.76 L93.05 887.56 L95.05 886.30 L97.06 884.97 L99.06 883.58 L101.07 882.10 L103.07 880.54 L105.08 878.90 L107.08 877.16 L109.08 875.33 L111.09 873.40 L113.09 871.36 L115.10 869.21 L117.10 866.94 L119.11 864.55 L121.11 862.03 L123.12 859.39 L125.12 856.63 L127.12 853.74 L129.13 850.72 L131.13 847.59 L133.14 844.33 L135.14 840.95 L137.15 837.45 L139.15 833.83 L141.16 830.09 L143.16 826.24 L145.17 822.26 L147.17 818.16 L149.17 813.94 L151.18 809.59 L153.18 805.12 L155.19 800.52 L157.19 795.78 L159.20 790.92 L161.20 785.93 L163.21 780.80 L165.21 775.53 L167.21 770.12 L169.22 764.58 L171.22 758.88 L173.23 753.04 L175.23 747.04 L177.24 740.90 L179.24 734.59 L181.25 728.12 L183.25 721.48 L185.25 714.68 L187.26 707.71 L189.26 700.58 L191.27 693.32 L193.27 685.95 L195.28 678.49 L197.28 670.97 L199.29 663.40 L201.29 655.82 L203.29 648.24 L205.30 640.68 L207.30 633.17 L209.31 625.73 L211.31 618.37 L213.32 611.09 L215.32 603.92 L217.33 596.87 L219.33 589.94 L221.33 583.16 L223.34 576.54 L225.34 570.08 L227.35 563.81 L229.35 557.76 L231.36 551.96 L233.36 546.45 L235.37 541.27 L237.37 536.46 L239.38 532.05 L241.38 528.08 L243.38 524.58 L245.39 521.59 L247.39 519.14 L249.40 517.24 L251.40 515.91 L253.41 515.16 L255.41 515.02 L257.42 515.45 L259.42 516.42 L261.42 517.87 L263.43 519.73 L265.43 521.97 L267.44 524.57 L269.44 527.55 L271.45 530.89 L273.45 534.59 L275.46 538.65 L277.46 543.08 L279.46 547.86 L281.47 552.99 L283.47 558.48 L285.48 564.31 L287.48 570.43 L289.49 576.79 L291.49 583.37 L293.50 590.10 L295.50 596.95 L297.50 603.87 L299.51 610.83 L301.51 617.76 L303.52 624.64 L305.52 631.44 L307.53 638.16 L309.53 644.81 L311.54 651.40 L313.54 657.93 L315.54 664.41 L317.55 670.85 L319.55 677.24 L321.56 683.60 L323.56 689.93 L325.57 696.24 L327.57 702.52 L329.58 708.77 L331.58 714.96 L333.58 721.09 L335.59 727.13 L337.59 733.09 L339.60 738.94 L341.60 744.67 L343.61 750.27 L345.61 755.73 L347.62 761.03 L349.62 766.17 L351.62 771.15 L353.63 775.99 L355.63 780.68 L357.64 785.24 L359.64 789.67 L361.65 793.97 L363.65 798.16 L365.66 802.23 L367.66 806.19 L369.67 810.05 L371.67 813.82 L373.67 817.50 L375.68 821.08 L377.68 824.57 L379.69 827.96 L381.69 831.26 L383.70 834.45 L385.70 837.54 L387.71 840.52 L389.71 843.41 L391.71 846.18 L393.72 848.85 L395.72 851.40 L397.73 853.85 L399.73 856.19 L401.74 858.42 L403.74 860.56 L405.75 862.60 L407.75 864.55 L409.75 866.42 L411.76 868.21 L413.76 869.92 L415.77 871.55 L417.77 873.12 L419.78 874.62 L421.78 876.07 L423.79 877.46 L425.79 878.80 L427.79 880.08 L429.80 881.31 L431.80 882.49 L433.81 883.63 L435.81 884.71 L437.82 885.76 L439.82 886.75 L441.83 887.70 L443.83 888.61 L445.83 889.48 L447.84 890.32 L449.84 891.11 L451.85 891.86 L453.85 892.58 L455.86 893.26 L457.86 893.91 L459.87 894.51 L461.87 895.08 L463.88 895.61 L465.88 896.11 L467.88 896.56 L469.89 896.98 L471.89 897.36 L473.90 897.70 L475.90 898.00 L477.91 898.27 L479.91 898.50 L481.92 898.69 L483.92 898.86 L485.92 899.00 L487.93 899.11 L489.93 899.19 L491.94 899.26 L493.94 899.30 L495.95 899.30 L497.95 899.30 L499.96 899.30 L501.96 899.30 L503.96 899.30 L505.97 899.30 L507.97 899.30 L509.98 899.30 L511.98 899.30 L513.99 899.30 L515.99 899.30 L518.00 899.30 L520.00 899.30" fill="none" stroke="#000" stroke-width="1.70" stroke-linejoin="round" stroke-linecap="round"/>
<g fill="#000" stroke="#000" stroke-width="0.90" stroke-linejoin="round"><path d="M66.60 903.50 L75.40 903.50 L71.00 894.50 Z"/><path d="M90.50 891.30 L99.30 891.30 L94.90 882.30 Z"/><path d="M114.50 869.70 L123.30 869.70 L118.90 860.70 Z"/><path d="M137.80 833.00 L146.60 833.00 L142.20 824.00 Z"/><path d="M159.80 783.10 L168.60 783.10 L164.20 774.10 Z"/><path d="M181.40 717.70 L190.20 717.70 L185.80 708.70 Z"/><path d="M201.40 643.70 L210.20 643.70 L205.80 634.70 Z"/><path d="M221.00 574.80 L229.80 574.80 L225.40 565.80 Z"/><path d="M239.80 528.20 L248.60 528.20 L244.20 519.20 Z"/><path d="M258.60 524.20 L267.40 524.20 L263.00 515.20 Z"/><path d="M278.40 561.50 L287.20 561.50 L282.80 552.50 Z"/><path d="M298.20 626.40 L307.00 626.40 L302.60 617.40 Z"/><path d="M320.20 698.10 L329.00 698.10 L324.60 689.10 Z"/><path d="M342.10 763.00 L350.90 763.00 L346.50 754.00 Z"/><path d="M366.40 817.10 L375.20 817.10 L370.80 808.10 Z"/><path d="M391.40 856.40 L400.20 856.40 L395.80 847.40 Z"/><path d="M417.00 880.70 L425.80 880.70 L421.40 871.70 Z"/><path d="M444.40 895.60 L453.20 895.60 L448.80 886.60 Z"/><path d="M472.20 903.00 L481.00 903.00 L476.60 894.00 Z"/><path d="M499.50 904.30 L508.30 904.30 L503.90 895.30 Z"/></g>

<path d="M485.50 581.00 H544.60" stroke="#000" stroke-width="1.30"/>
<g stroke="#000" stroke-width="0.8" stroke-linejoin="round">
<path d="M511.30 577.88 L518.50 577.88 L514.90 584.72 Z"/>
</g>
<text transform="translate(549.80 588.10) scale(1.2 1)" font-size="19.60" font-style="italic" stroke="#000" stroke-width="0.3">θ</text>
<text x="561.30" y="590.50" font-size="17.05" stroke="#000" stroke-width="0.3">0</text>
<text x="574.80" y="588.10" font-size="20.58" stroke="#000" stroke-width="0.4">=</text>
<text x="594.00" y="588.10" font-size="19.60" textLength="28.80" lengthAdjust="spacingAndGlyphs" stroke="#000" stroke-width="0.4">360</text>
<circle cx="627.20" cy="578.20" r="3.10" fill="none" stroke="#000" stroke-width="1.4"/>
<path d="M485.50 608.30 H544.60" stroke="#000" stroke-width="2.10"/>
<g stroke="#000" stroke-width="0.8" stroke-linejoin="round">
<circle cx="514.90" cy="608.30" r="3.90"/>
</g>
<text transform="translate(549.80 615.70) scale(1.2 1)" font-size="19.60" font-style="italic" stroke="#000" stroke-width="0.3">θ</text>
<text x="561.30" y="618.10" font-size="17.05" stroke="#000" stroke-width="0.3">0</text>
<text x="574.80" y="615.70" font-size="20.58" stroke="#000" stroke-width="0.4">=</text>
<text x="594.00" y="615.70" font-size="19.60" textLength="28.80" lengthAdjust="spacingAndGlyphs" stroke="#000" stroke-width="0.4">270</text>
<circle cx="627.20" cy="605.80" r="3.10" fill="none" stroke="#000" stroke-width="1.4"/>
<path d="M485.50 635.90 H544.60" stroke="#000" stroke-width="2.10"/>
<g stroke="#000" stroke-width="0.8" stroke-linejoin="round">
<path d="M511.15 640.17 L518.65 640.17 L514.90 632.03 Z"/>
</g>
<text transform="translate(549.80 643.00) scale(1.2 1)" font-size="19.60" font-style="italic" stroke="#000" stroke-width="0.3">θ</text>
<text x="561.30" y="645.40" font-size="17.05" stroke="#000" stroke-width="0.3">0</text>
<text x="574.80" y="643.00" font-size="20.58" stroke="#000" stroke-width="0.4">=</text>
<text x="594.00" y="643.00" font-size="19.60" textLength="28.80" lengthAdjust="spacingAndGlyphs" stroke="#000" stroke-width="0.4">180</text>
<circle cx="627.20" cy="633.10" r="3.10" fill="none" stroke="#000" stroke-width="1.4"/>
</g></svg>
</body></html>
